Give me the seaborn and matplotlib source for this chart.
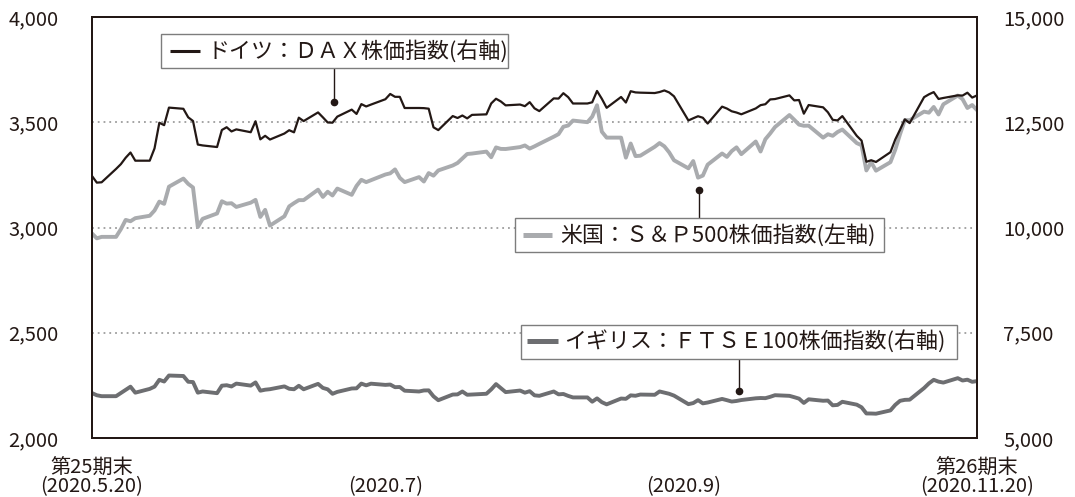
import pandas as pd
import seaborn as sns
import matplotlib.pyplot as plt
import matplotlib.ticker as mtick
from matplotlib.patches import Rectangle
from matplotlib.lines import Line2D

sns.set_style('white')
plt.rcParams['font.family'] = ['Noto Sans CJK JP', 'DejaVu Sans']

# weekdays from 2020-05-20 to 2020-11-20 (holidays keep the previous close)
dates = pd.bdate_range('2020-05-20', '2020-11-20')

# S&P500 (left axis)
sp500 = [2971.6, 2948.5, 2955.5, 2955.5, 2991.8, 3036.1, 3029.7, 3044.3,
         3055.7, 3080.8, 3122.9, 3112.4, 3193.9, 3232.4, 3207.2, 3190.1, 3002.1, 3041.3,
         3066.6, 3124.7, 3113.5, 3115.3, 3097.7, 3117.9, 3131.3, 3050.3, 3083.8, 3009.1,
         3053.2, 3100.3,
         3115.9, 3130.0, 3130.0, 3179.7, 3145.3, 3169.9, 3152.1, 3185.0, 3155.2, 3197.5,
         3226.6, 3215.6, 3224.7, 3251.8, 3257.3, 3276.0, 3235.7, 3215.6, 3239.4, 3218.4,
         3258.4, 3246.2, 3271.1,
         3294.6, 3306.5, 3327.8, 3349.2, 3351.3, 3360.5, 3333.7, 3380.4, 3373.4, 3372.9,
         3382.0, 3389.8, 3374.9, 3385.5, 3397.2, 3431.3, 3443.6, 3478.7, 3484.6, 3508.0,
         3500.3,
         3526.7, 3580.8, 3455.1, 3427.0, 3427.0, 3331.8, 3399.0, 3339.2, 3341.0, 3383.5,
         3401.2, 3385.5, 3357.0, 3319.5, 3281.1, 3315.6, 3236.9, 3246.6, 3298.5, 3351.6,
         3335.5, 3363.0,
         3380.8, 3348.4, 3408.6, 3361.0, 3419.4, 3446.8, 3477.1, 3534.2, 3511.9, 3488.7,
         3483.3, 3483.8, 3426.9, 3443.1, 3435.6, 3453.5, 3465.4, 3401.0, 3390.7, 3271.0,
         3310.1, 3270.0,
         3310.2, 3369.2, 3443.4, 3510.5, 3509.4, 3550.5, 3545.5, 3572.7, 3537.0, 3585.2,
         3626.9, 3609.5, 3567.8, 3581.9, 3557.5]

# DAX (right axis)
dax = [11223.7, 11065.9, 11073.9, 11391.3, 11504.7, 11657.1, 11781.1, 11586.9,
       11586.9, 11879.4, 12487.4, 12430.6, 12847.7, 12819.6, 12617.6, 12530.2, 11970.3, 11949.3,
       11911.4, 12315.7, 12382.1, 12281.5, 12330.8, 12263.0, 12523.8, 12093.9, 12177.9, 12089.4,
       12232.1, 12310.9,
       12260.6, 12608.5, 12528.2, 12733.5, 12616.8, 12494.8, 12489.5, 12633.7, 12800.0, 12697.4,
       12931.0, 12875.0, 12919.6, 13046.9, 13171.8, 13104.3, 13103.4, 12838.1, 12838.7, 12835.3,
       12822.3, 12379.7, 12313.4,
       12647.0, 12600.9, 12660.3, 12591.7, 12674.9, 12687.5, 12946.9, 13058.6, 12993.7, 12901.3,
       12920.7, 12881.8, 12977.3, 12830.0, 12764.8, 13066.5, 13061.6, 13190.2, 13096.1, 12945.4,
       12945.4,
       12974.3, 13243.4, 13057.8, 12842.7, 13100.3, 12968.3, 13237.2, 13208.9, 13202.8, 13193.7,
       13217.7, 13255.4, 13208.1, 13116.3, 12542.4, 12594.4, 12643.0, 12606.6, 12469.2, 12870.9,
       12825.8, 12760.7,
       12730.8, 12689.0, 12828.3, 12906.0, 12928.6, 13042.2, 13051.2, 13138.4, 13019.0, 13028.1,
       12703.8, 12909.0, 12854.7, 12737.0, 12557.6, 12543.1, 12645.8, 12177.2, 12063.6, 11560.5,
       11598.1, 11556.5,
       11788.3, 12089.0, 12324.2, 12568.1, 12480.0, 13096.0, 13163.1, 13216.2, 13053.0, 13076.7,
       13138.6, 13133.5, 13201.9, 13086.2, 13137.3]

# FTSE100 (right axis)
ftse = [6067.2, 6015.3, 5993.3, 5993.3, 6067.8, 6144.3, 6218.8, 6076.6,
        6166.4, 6220.1, 6382.4, 6341.4, 6484.3, 6472.6, 6335.7, 6329.1, 6076.7, 6105.2,
        6064.7, 6242.8, 6253.3, 6224.1, 6292.6, 6244.6, 6320.1, 6123.7, 6147.1, 6159.3,
        6225.8, 6169.7,
        6158.0, 6240.4, 6157.3, 6285.9, 6189.9, 6156.2, 6049.6, 6095.4, 6176.2, 6179.8,
        6292.7, 6250.7, 6290.3, 6261.5, 6269.7, 6207.1, 6211.4, 6123.8, 6104.7, 6129.3,
        6131.5, 5990.0, 5897.8,
        6032.2, 6036.0, 6104.7, 6026.9, 6032.2, 6050.6, 6154.3, 6280.1, 6185.6, 6090.0,
        6127.4, 6076.6, 6112.0, 6013.3, 6001.9, 6104.7, 6037.0, 6045.6, 6000.0, 5963.6,
        5963.6,
        5862.0, 5941.0, 5850.9, 5799.1, 5937.4, 5930.3, 6012.8, 6003.3, 6032.1, 6026.3,
        6105.5, 6078.5, 6049.9, 6007.1, 5804.3, 5829.5, 5899.3, 5822.8, 5842.7, 5927.9,
        5898.5, 5866.1,
        5879.5, 5902.1, 5942.9, 5949.9, 5946.3, 5978.0, 6016.7, 6001.4, 5969.7, 5935.1,
        5832.5, 5919.6, 5884.7, 5889.2, 5776.5, 5785.7, 5860.3, 5792.0, 5729.0, 5582.8,
        5581.8, 5577.3,
        5655.0, 5786.8, 5883.3, 5906.2, 5910.0, 6186.3, 6296.9, 6382.1, 6338.9, 6316.4,
        6421.3, 6365.3, 6385.2, 6334.4, 6351.5]

left_ticks = [2000, 2500, 3000, 3500, 4000]
right_ticks = [5000, 7500, 10000, 12500, 15000]
x_ticks = ['2020-05-20', '2020-07-20', '2020-09-20', '2020-11-20']
x_labels = ['第25期末\n(2020.5.20)', '\n(2020.7)', '\n(2020.9)', '第26期末\n(2020.11.20)']

label_dax = 'ドイツ：ＤＡＸ株価指数(右軸)'
label_sp = '米国：Ｓ＆Ｐ500株価指数(左軸)'
label_ftse = 'イギリス：ＦＴＳＥ100株価指数(右軸)'

col_sp = '#a9abae'
col_dax = '#231815'
col_ftse = '#6d6e71'

df = pd.DataFrame({'date': dates, 'sp500': sp500, 'dax': dax, 'ftse': ftse})

fig = plt.figure(figsize=(10.75, 4.97), dpi=100)
ax = fig.add_axes([92/1075, 1 - 438/497, 885/1075, 421/497])
ax2 = ax.twinx()

sns.lineplot(data=df, x='date', y='sp500', ax=ax, color=col_sp, linewidth=2.8)
sns.lineplot(data=df, x='date', y='dax', ax=ax2, color=col_dax, linewidth=1.6)
sns.lineplot(data=df, x='date', y='ftse', ax=ax2, color=col_ftse, linewidth=2.8)

ax.set_xlim(pd.Timestamp('2020-05-20'), pd.Timestamp('2020-11-20'))
ax.set_ylim(2000, 4000)
ax2.set_ylim(5000, 15000)
ax.set_yticks(left_ticks)
ax2.set_yticks(right_ticks)
ax.yaxis.set_major_formatter(mtick.StrMethodFormatter('{x:,.0f}'))
ax2.yaxis.set_major_formatter(mtick.StrMethodFormatter('{x:,.0f}'))
ax.set_xticks([pd.Timestamp(d) for d in x_ticks])
ax.set_xticklabels(x_labels, linespacing=0.88)

ax.set_xlabel('')
ax.set_ylabel('')
ax2.set_ylabel('')

ax.set_axisbelow(True)
ax.yaxis.grid(True, linestyle=(0, (1, 2.2)), color='#9d9d9d', linewidth=1.3)
ax.xaxis.grid(False)
ax2.grid(False)

ax.tick_params(axis='y', length=0, pad=24, labelsize=14.5, colors='#231815')
ax2.tick_params(axis='y', length=0, pad=19, labelsize=14.5, colors='#231815')
ax.tick_params(axis='x', direction='in', length=7, width=1.4, pad=14, labelsize=14.5,
               color='#231815', labelcolor='#231815')

for a in (ax, ax2):
    for s in a.spines.values():
        s.set_color('#231815')
        s.set_linewidth(1.4)

# legend boxes with leader lines
boxes = [
    # x0, x1, y0, y1, sample x0, x1, sample y, text x, leader x, leader y0, dot y, colour, lw, label
    (0.078, 0.470, 0.879, 0.960, 0.088, 0.122, 0.919, 0.130, 0.2734, 0.879, 0.799, col_dax, 2.2, label_dax),
    (0.478, 0.895, 0.442, 0.523, 0.487, 0.520, 0.482, 0.529, 0.686, 0.523, 0.589, col_sp, 3.6, label_sp),
    (0.485, 0.977, 0.188, 0.268, 0.492, 0.527, 0.230, 0.534, 0.731, 0.188, 0.112, col_ftse, 3.6, label_ftse),
]
for x0, x1, y0, y1, sx0, sx1, sy, tx, lx, ly0, dy, c, lw, lab in boxes:
    ax2.add_patch(Rectangle((x0, y0), x1 - x0, y1 - y0, transform=ax2.transAxes,
                            facecolor='white', edgecolor='#7d7d7d', linewidth=1.0, zorder=10))
    ax2.add_line(Line2D([sx0, sx1], [sy, sy], transform=ax2.transAxes, color=c,
                        linewidth=lw, zorder=11, solid_capstyle='butt'))
    ax2.text(tx, sy, lab, transform=ax2.transAxes, fontsize=15.8, va='center', ha='left',
             color='#231815', zorder=12)
    ax2.add_line(Line2D([lx, lx], [ly0, dy], transform=ax2.transAxes, color='#231815',
                        linewidth=1.0, zorder=9))
    ax2.plot([lx], [dy], 'o', transform=ax2.transAxes, color='#231815', markersize=4.5, zorder=9)

fig.savefig('out.png', dpi=100)
